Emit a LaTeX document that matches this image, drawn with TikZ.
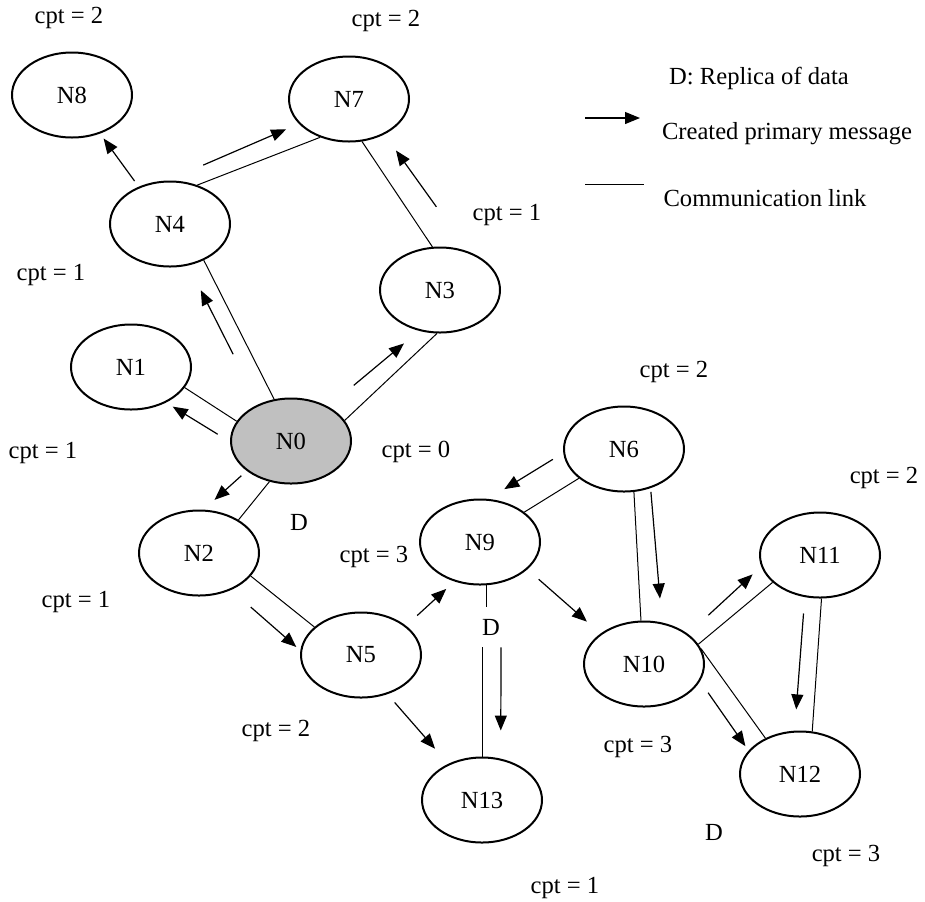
\documentclass[tikz,border=0pt]{standalone}
\usepackage{fontspec}
\setmainfont{Liberation Serif}
\usetikzlibrary{shapes.geometric,arrows.meta}
\definecolor{sourcegray}{RGB}{192,192,192}

\begin{document}
\begin{tikzpicture}[
      x=0.5pt, y=-0.5pt,
      peer/.style={draw, ellipse, line width=1pt, minimum width=60pt,
                   minimum height=42.5pt, inner sep=0pt, font=\fontsize{12.3}{14}\selectfont},
      link/.style={line width=0.5pt},
      msg/.style={-{Triangle[length=7.5pt, width=6pt]}, line width=0.6pt},
      lbl/.style={font=\fontsize{12.3}{14}\selectfont, inner sep=1pt}
    ]
    \useasboundingbox (0,0) rectangle (925,901);
    % peers
    \node[peer] (N8)  at (72,95)   {N8};
    \node[peer] (N7)  at (349,99)  {N7};
    \node[peer] (N4)  at (170,224) {N4};
    \node[peer] (N3)  at (440,290) {N3};
    \node[peer] (N1)  at (131,367) {N1};
    \node[peer, fill=sourcegray] (N0) at (291,441) {N0};
    \node[peer] (N2)  at (199,553) {N2};
    \node[peer] (N9)  at (480,542) {N9};
    \node[peer] (N6)  at (624,449) {N6};
    \node[peer] (N5)  at (361,655) {N5};
    \node[peer] (N11) at (820,555) {N11};
    \node[peer] (N10) at (644,664) {N10};
    \node[peer] (N12) at (800,774) {N12};
    \node[peer] (N13) at (482,800) {N13};
    % counters and replicas
    \node[lbl] (cpt8)  at (69,18)   {cpt = 2};
    \node[lbl] (cpt7)  at (386,21)  {cpt = 2};
    \node[lbl] (cpt4)  at (51,275)  {cpt = 1};
    \node[lbl] (cpt3)  at (507,215) {cpt = 1};
    \node[lbl] (cpt1)  at (43,453)  {cpt = 1};
    \node[lbl] (cpt0)  at (416,452) {cpt = 0};
    \node[lbl] (cpt9)  at (374,557) {cpt = 3};
    \node[lbl] (cpt6)  at (674,372) {cpt = 2};
    \node[lbl] (cpt11) at (884,478) {cpt = 2};
    \node[lbl] (cpt2)  at (76,602)  {cpt = 1};
    \node[lbl] (cpt5)  at (276,731) {cpt = 2};
    \node[lbl] (cpt10) at (638,747) {cpt = 3};
    \node[lbl] (cpt12) at (846,856) {cpt = 3};
    \node[lbl] (cpt13) at (565,888) {cpt = 1};
    \node[lbl] (d0)  at (299,522) {D};
    \node[lbl, inner ysep=6pt] (d9) at (491,627) {D};
    \node[lbl] (d12) at (714,832) {D};
    % legend
    \node[lbl] (keyD) at (759,78) {D: Replica of data};
    \coordinate (msgA) at (585,118);
    \coordinate (msgB) at (640,118);
    \node[lbl] (keyMsg) at (787,134) {Created primary message};
    \coordinate (linkA) at (585,184);
    \coordinate (linkB) at (644,184);
    \node[lbl] (keyLink) at (765,198) {Communication link};
    \draw[msg] (msgA) -- (msgB);
    \draw[link] (linkA) -- (linkB);
    % communication links
    \draw[link] (N4.55) -- (N7.233);
    \draw[link] (N7.287) -- (N3.100);
    \draw[link] (N4.313) -- (N0.112);
    \draw[link] (N0.21) -- (N3.266);
    \draw[link] (N0.160) -- (N1.339);
    \draw[link] (N0.242) -- (N2.40);
    \draw[link] (N2.336) -- (N5.149);
    \draw[link] (N9.278) -- (N9.278 |- d9.north);
    \draw[link] (N13.89 |- d9.south) -- (N13.89);
    \draw[link] (N6.213) -- (N9.34);
    \draw[link] (N6.283) -- (N10.94);
    \draw[link] (N10.20) -- (N11.210);
    \draw[link] (N10.15) -- (N12.134);
    \draw[link] (N11.272) -- (N12.74);
    % primary messages
    \draw[msg, shorten <=3.5pt, shorten >=3pt] (N4.130) -- (N8.306);
    \draw[msg] ([shift={(6,-20)}]N4.55) -- ([shift={(-34,-8)}]N7.233);
    \draw[msg] ([shift={(4,-40)}]N3.100) -- ([shift={(34,9)}]N7.287);
    \draw[msg] ([shift={(-41,-45)}]N0.112) -- ([shift={(-3,30)}]N4.313);
    \draw[msg] ([shift={(9,-35)}]N0.21) -- ([shift={(-33,10)}]N3.266);
    \draw[msg] ([shift={(-19,13)}]N0.160) -- ([shift={(-12,19)}]N1.339);
    \draw[msg] ([shift={(-28,-6)}]N0.242) -- ([shift={(-24,-20)}]N2.40);
    \draw[msg] ([shift={(0,31)}]N2.336) -- ([shift={(-18,20)}]N5.149);
    \draw[msg, shorten <=7.5pt, shorten >=5.5pt] (N5.33) -- (N9.237);
    \draw[msg, shorten <=5.5pt, shorten >=10pt] (N5.304) -- (N13.133);
    \draw[msg] ([shift={(15,62)}]N9.278) -- ([shift={(18,-26)}]N13.89);
    \draw[msg, shorten <=7.5pt, shorten >=9pt] (N9.330) -- (N10.145);
    \draw[msg] ([shift={(-26,-19)}]N6.213) -- ([shift={(-20,-23)}]N9.34);
    \draw[msg] ([shift={(17,0)}]N6.283) -- ([shift={(19,-22)}]N10.94);
    \draw[msg] ([shift={(10,-29)}]N10.20) -- ([shift={(-20,-8)}]N11.210);
    \draw[msg] ([shift={(7,44)}]N10.15) -- ([shift={(-20,8)}]N12.134);
    \draw[msg] ([shift={(-18,15)}]N11.272) -- ([shift={(-16,-22)}]N12.74);
  \end{tikzpicture}
\end{document}
